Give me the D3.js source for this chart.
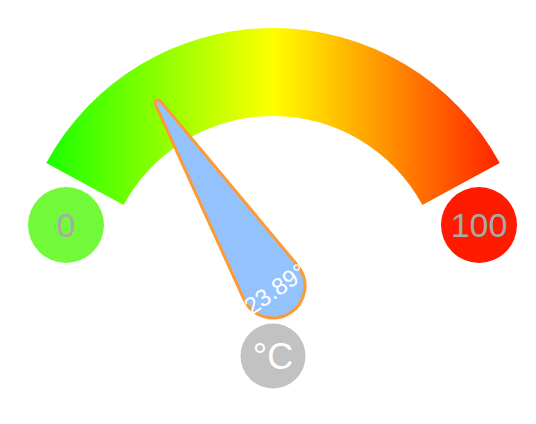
<!DOCTYPE html>
<html>
<head>
<meta charset="utf-8">
<script src="https://cdn.jsdelivr.net/npm/d3@7"></script>
<style>
  body { margin: 0; background: #fff; }
  svg { display: block; }
  text { font-family: "Liberation Sans", Arial, sans-serif; }
</style>
</head>
<body>
<svg id="chart" width="536" height="424"></svg>
<script>
// gauge data
const domainValues = [0, 100];
const rangeLabels = ["0", "100"];
const rangeColors = ["#72fa3a", "#ff1a00"];
const gradientOffsets = [0, 0.5, 1];
const gradientColors = ["#1cff00", "#ffff00", "#ff2400"];
const currentValue = 23.89;
const unitLabel = "°C";

const svg = d3.select("#chart");

const cx = 273, cy = 286;
const outerR = 258, innerR = 170;
const arcSpan = 61.5; // degrees each side of top

// angle scale shared by band and needle
const angle = d3.scaleLinear()
  .domain(domainValues)
  .range([-arcSpan, arcSpan]);

const rad = d => d * Math.PI / 180;

// horizontal gradient across the band (in the band's local coords)
const halfW = outerR * Math.sin(rad(arcSpan));
const grad = svg.append("defs").append("linearGradient")
  .attr("id", "bandGrad")
  .attr("gradientUnits", "userSpaceOnUse")
  .attr("x1", -halfW).attr("x2", halfW)
  .attr("y1", 0).attr("y2", 0);

grad.selectAll("stop")
  .data(gradientOffsets)
  .join("stop")
  .attr("offset", d => d)
  .attr("stop-color", (d, i) => gradientColors[i]);

const arc = d3.arc()
  .innerRadius(innerR)
  .outerRadius(outerR)
  .startAngle(rad(angle(domainValues[0])))
  .endAngle(rad(angle(domainValues[1])));

svg.append("path")
  .attr("transform", `translate(${cx},${cy})`)
  .attr("d", arc())
  .attr("fill", "url(#bandGrad)");

// min / max bubbles
const bubblePos = [[66, 225], [479, 225]];
const bubbles = svg.selectAll("g.bubble")
  .data(rangeLabels)
  .join("g")
  .attr("class", "bubble")
  .attr("transform", (d, i) => `translate(${bubblePos[i][0]},${bubblePos[i][1]})`);

bubbles.append("circle")
  .attr("r", 38)
  .attr("fill", (d, i) => rangeColors[i]);

bubbles.append("text")
  .attr("text-anchor", "middle")
  .attr("dy", "0.35em")
  .attr("font-size", 34)
  .attr("fill", "#a9a9a9")
  .text(d => d);

// unit bubble
const unitG = svg.append("g").attr("transform", "translate(273,356)");
unitG.append("circle").attr("r", 32.5).attr("fill", "#c2c2c2");
unitG.append("text")
  .attr("text-anchor", "middle")
  .attr("dy", "0.36em")
  .attr("font-size", 36)
  .attr("fill", "#fff")
  .text(unitLabel);

// needle: big round base, tapered to a small round tip
const baseR = 32, tipR = 3, needleLen = 216;
const phi = Math.asin((baseR - tipR) / needleLen);
const c = Math.cos(phi), s = Math.sin(phi);
const p = d3.path();
p.moveTo(baseR * c, -baseR * s);
p.lineTo(tipR * c, -needleLen - tipR * s);
p.arc(0, -needleLen, tipR, -phi, Math.PI + phi, true);
p.lineTo(-baseR * c, -baseR * s);
p.arc(0, 0, baseR, Math.PI + phi, -phi, true);
p.closePath();

const needle = svg.append("g")
  .attr("transform", `translate(${cx},${cy}) rotate(${angle(currentValue)})`);

needle.append("path")
  .attr("d", p.toString())
  .attr("fill", "#94c2fd")
  .attr("stroke", "#ff9a33")
  .attr("stroke-width", 3)
  .attr("stroke-linejoin", "round");

needle.append("text")
  .attr("text-anchor", "middle")
  .attr("transform", "rotate(-3)")
  .attr("y", 12)
  .attr("font-size", 24)
  .attr("fill", "#fff")
  .text(currentValue.toFixed(2) + "°");
</script>
</body>
</html>
